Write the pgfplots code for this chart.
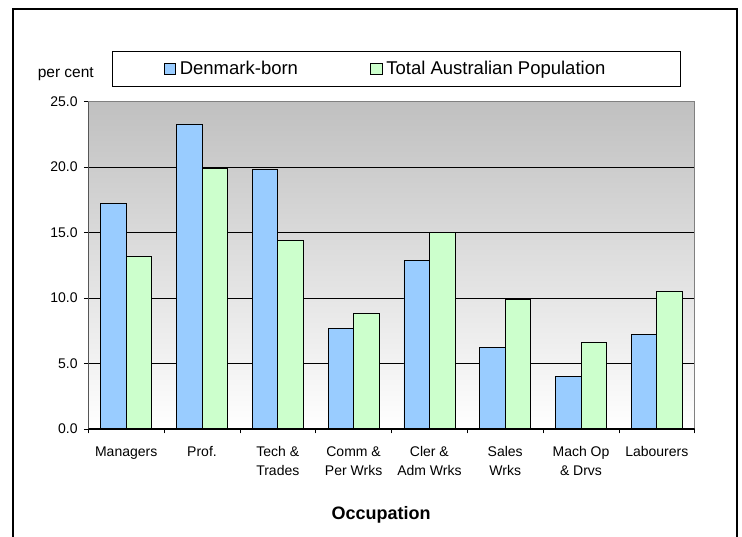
\documentclass[border=0pt]{standalone}
\usepackage{fontspec}
\setmainfont{Liberation Sans}
\usepackage{pgfplots}
\pgfplotsset{compat=1.18}
\definecolor{barblue}{RGB}{153,204,255}
\definecolor{bargreen}{RGB}{204,255,204}
\definecolor{bggray}{RGB}{192,192,192}
\definecolor{framegray}{RGB}{128,128,128}

\begin{document}
\begin{tikzpicture}[x=1bp,y=1bp]
\path[use as bounding box] (0,0) rectangle (742,537);
\draw[line width=2bp] (12.7,-2) -- (12.7,527.7) -- (737,527.7) -- (737,-2);
\node[font=\fontsize{15.5bp}{17bp}\selectfont, anchor=base, inner sep=0pt] at (65.8,459.5) {per cent};
\begin{axis}[
  at={(88.3bp,108bp)}, anchor=south west,
  scale only axis, width=606.4bp, height=327.3bp,
  xmin=-0.5, xmax=7.5, ymin=0, ymax=25,
  ybar=0pt, bar width=25.5bp,
  axis background/.style={shade, top color=bggray, bottom color=white},
  axis line style={draw=framegray, line width=1bp},
  ytick={0,5,...,25},
  ymajorgrids, major grid style={black, line width=0.8bp},
  tick align=outside,
  xtick pos=bottom, ytick pos=left,
  major tick length=4.5bp,
  tick style={black, line width=0.8bp},
  /pgf/number format/.cd, fixed, fixed zerofill, precision=1, assume math mode=true,
  /pgfplots/.cd,
  yticklabel style={font=\fontsize{14bp}{17bp}\selectfont, anchor=east, inner sep=0pt, xshift=-6bp},
  xtick={-0.5,0.5,...,7.5},
  x tick label as interval=true,
  xticklabels={Managers, Prof., {Tech \&\\Trades}, {Comm \&\\Per Wrks}, {Cler \&\\Adm Wrks}, {Sales\\Wrks}, {Mach Op\\\& Drvs}, Labourers},
  xticklabel style={font=\fontsize{14bp}{19bp}\selectfont, align=center, anchor=north, inner sep=0pt, yshift=-13bp},
  xlabel={Occupation},
  xlabel style={font=\bfseries\fontsize{18bp}{20bp}\selectfont, at={(axis description cs:0.4827,0)}, anchor=base, yshift=-91bp, inner sep=0pt},
  legend columns=2,
  legend cell align=left,
  legend style={at={(axis description cs:0.0391,1.1549)}, anchor=north west, draw=black, line width=1bp,
    inner xsep=51bp, inner ysep=10bp, font=\fontsize{18.5bp}{20bp}\selectfont,
    nodes={inner sep=0pt},
    /tikz/every even column/.append style={column sep=72bp},
    /tikz/every odd column/.append style={column sep=4bp}},
  every axis plot post/.append style={legend image code/.code={\draw[#1, line width=0.8bp] (0bp,-5.7bp) rectangle (11.5bp,5.8bp);}},
]
\addplot[fill=barblue, draw=black, line width=0.8bp] coordinates {(0,17.2) (1,23.3) (2,19.8) (3,7.7) (4,12.9) (5,6.2) (6,4.0) (7,7.2)};
\addplot[fill=bargreen, draw=black, line width=0.8bp] coordinates {(0,13.2) (1,19.9) (2,14.4) (3,8.8) (4,15.0) (5,9.9) (6,6.6) (7,10.5)};
\legend{Denmark-born, {\makebox[243bp][l]{Total Australian Population}}}
\draw[black, line width=1bp] (rel axis cs:0,0) -- (rel axis cs:1,0);
\draw[black!75, line width=1bp] (rel axis cs:0,0) -- (rel axis cs:0,1);
\end{axis}
\end{tikzpicture}
\end{document}
